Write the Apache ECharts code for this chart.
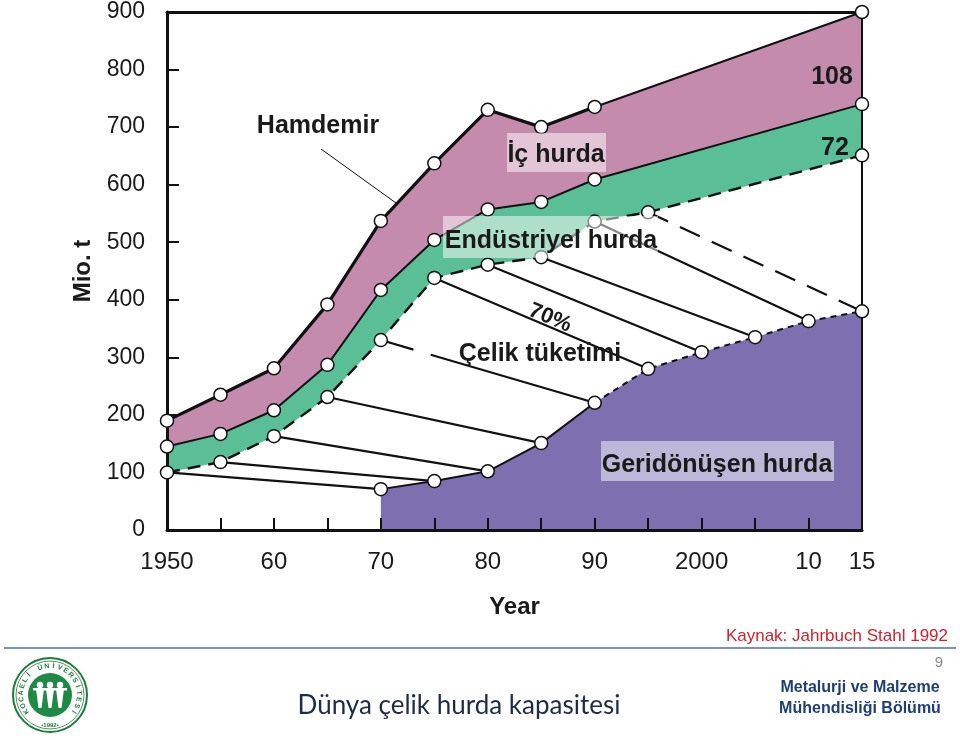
<!DOCTYPE html>
<html>
<head>
<meta charset="utf-8">
<script src="https://cdn.jsdelivr.net/npm/echarts@6/dist/echarts.min.js"></script>
<style>html,body{margin:0;padding:0;background:#fff;}#c{width:960px;height:740px;}</style>
</head>
<body>
<div id="c"></div>
<script>
// ---- data (Mio. t) ----
const mainYears = [1950, 1955, 1960, 1965, 1970, 1975, 1980, 1985, 1990, 2015];
const hamdemir = [190, 235, 281, 392, 537, 637, 730, 700, 735, 900];        // top line
const icHurdaAlt = [145, 167, 208, 287, 417, 504, 557, 570, 609, 740];      // middle line
const consumptionYears = [1950, 1955, 1960, 1965, 1970, 1975, 1980, 1985, 1990, 1995, 2015];
const celikTuketimi = [100, 118, 163, 231, 330, 438, 461, 474, 536, 552, 651]; // bottom (dashed) line
const scrapYears = [1970, 1975, 1980, 1985, 1990, 1995, 2000, 2005, 2010, 2015];
const geridonusenHurda = [71, 85, 102, 151, 221, 280, 309, 335, 363, 380];
const lagYears = 20; // consumption -> recycled scrap 20 years later
const dashedLagFrom = [1970, 1995];
const xTickLabels = {1950: '1950', 1960: '60', 1970: '70', 1980: '80', 1990: '90', 2000: '2000', 2010: '10', 2015: '15'};

const FONT = "'Liberation Sans', Arial, sans-serif";
const PINK = '#C58BAC', GREEN = '#5ABE96', PURPLE = '#7C70B0';

function pairs(xs, ys) { return xs.map((x, i) => [x, ys[i]]); }
function sub(xs, ys, a, b) { return pairs(xs, ys).filter(p => p[0] >= a && p[0] <= b); }

const series = [];
function area(data, color, z) {
  series.push({type: 'line', data, symbol: 'none', z, silent: true,
    lineStyle: {width: 0}, areaStyle: {color, opacity: 1}, animation: false});
}
function line(data, width, type, z) {
  series.push({type: 'line', data, symbol: 'none', z, silent: true,
    lineStyle: {color: '#111', width, type, cap: 'butt'}, animation: false});
}
area(pairs(mainYears, hamdemir), PINK, 1);
area(pairs(mainYears, icHurdaAlt), GREEN, 2);
area(pairs(consumptionYears, celikTuketimi), '#ffffff', 3);
area(pairs(scrapYears, geridonusenHurda), PURPLE, 4);

// lag lines
consumptionYears.forEach((y, i) => {
  const j = scrapYears.indexOf(y + lagYears);
  if (j < 0) return;
  const dashed = dashedLagFrom.includes(y);
  const t = y === 1970 ? [34, 18, 400, 0] : (dashed ? [22, 13] : 'solid');
  line([[y, celikTuketimi[i]], [scrapYears[j], geridonusenHurda[j]]], 2.2, t, 5);
});

// boundary lines
line(sub(mainYears, hamdemir, 1950, 1990), 3.2, 'solid', 6);
line(sub(mainYears, hamdemir, 1990, 2015), 2, 'solid', 6);
line(pairs(mainYears, icHurdaAlt), 2, 'solid', 6);
line(pairs(consumptionYears, celikTuketimi), 2.4, [13, 8], 6);
line(sub(scrapYears, geridonusenHurda, 1970, 1990), 2, 'solid', 6);
line(sub(scrapYears, geridonusenHurda, 1990, 2015), 2, [6, 5], 6);

// markers
series.push({type: 'scatter', z: 20, silent: true, animation: false,
  symbol: 'circle', symbolSize: 13,
  itemStyle: {color: '#fff', borderColor: '#111', borderWidth: 1.5, opacity: 1},
  data: [].concat(pairs(mainYears, hamdemir), pairs(mainYears, icHurdaAlt),
    pairs(consumptionYears, celikTuketimi), pairs(scrapYears, geridonusenHurda))});

const chart = echarts.init(document.getElementById('c'), null, {renderer: 'canvas'});

const txt = (s, x, y, size, opts = {}) => Object.assign({
  type: 'text', z: 101, silent: true,
  style: {text: s, x, y, font: `bold ${size}px ${FONT}`, fill: '#1a1a1a', textAlign: 'center', textVerticalAlign: 'middle'}
}, opts);
const box = (x, y, w, h) => ({type: 'rect', z: 100, silent: true, shape: {x, y, width: w, height: h},
  style: {fill: 'rgba(255,255,255,0.5)'}});

const graphic = [
  {type: 'line', z: 100, silent: true, shape: {x1: 321, y1: 149, x2: 396, y2: 203}, style: {stroke: '#111', lineWidth: 1}},
  txt('Hamdemir', 318, 126, 25),
  box(507, 133, 99, 39), txt('İç hurda', 556, 155, 25),
  box(443, 216, 215, 42), txt('Endüstriyel hurda', 551, 241, 25),
  txt('70%', 550, 318, 22),
  txt('Çelik tüketimi', 540, 354, 25),
  box(601, 441, 233, 40), txt('Geridönüşen hurda', 717, 465, 25),
  txt('108', 832, 77, 25), txt('72', 835, 148, 25),
  // footer
  {type: 'text', z: 100, silent: true, style: {text: 'Kaynak: Jahrbuch Stahl 1992', x: 948, y: 636,
    font: `17px ${FONT}`, fill: '#d4202a', textAlign: 'right', textVerticalAlign: 'middle'}},
  {type: 'line', z: 100, silent: true, shape: {x1: 4, y1: 648, x2: 956, y2: 648}, style: {stroke: '#7a95b8', lineWidth: 2}},
  {type: 'text', z: 100, silent: true, style: {text: '9', x: 943, y: 663, font: `15px ${FONT}`, fill: '#8a8a8a', textAlign: 'right', textVerticalAlign: 'middle'}},
  {type: 'text', z: 100, silent: true, style: {text: 'Dünya çelik hurda kapasitesi', x: 459, y: 706,
    font: `26px Lato, 'Noto Sans', sans-serif`, fill: '#1f2a44', textAlign: 'center', textVerticalAlign: 'middle'}},
  {type: 'text', z: 100, silent: true, style: {text: 'Metalurji ve Malzeme', x: 860, y: 688,
    font: `bold 16px ${FONT}`, fill: '#1d3f73', textAlign: 'center', textVerticalAlign: 'middle'}},
  {type: 'text', z: 100, silent: true, style: {text: 'Mühendisliği Bölümü', x: 860, y: 709,
    font: `bold 16px ${FONT}`, fill: '#1d3f73', textAlign: 'center', textVerticalAlign: 'middle'}},
  // logo
  {type: 'circle', z: 100, silent: true, shape: {cx: 50, cy: 695, r: 37}, style: {fill: '#fff', stroke: '#1f7a3c', lineWidth: 2}},
  {type: 'circle', z: 100, silent: true, shape: {cx: 50, cy: 695, r: 34}, style: {fill: 'none', stroke: '#1f7a3c', lineWidth: 0.8}},
  {type: 'circle', z: 101, silent: true, shape: {cx: 50, cy: 695, r: 22}, style: {fill: '#1f8a45'}},
  {type: 'text', z: 102, silent: true, style: {text: '•1992•', x: 50, y: 725, font: `bold 6px ${FONT}`, fill: '#1f7a3c', textAlign: 'center', textVerticalAlign: 'middle'}},
];
// logo figures
[40, 50, 60].forEach(cx => {
  graphic.push({type: 'circle', z: 102, silent: true, shape: {cx, cy: 685, r: 3.2}, style: {fill: '#fff'}});
  graphic.push({type: 'polygon', z: 102, silent: true, shape: {points: [[cx - 4, 689], [cx + 4, 689], [cx + 1.5, 708], [cx - 1.5, 708]]}, style: {fill: '#fff'}});
});
graphic.push({type: 'rect', z: 102, silent: true, shape: {x: 33, y: 688, width: 34, height: 2.5}, style: {fill: '#fff'}});
// logo arc text
(function () {
  const s = 'KOCAELİ ÜNİVERSİTESİ';
  const a0 = 215, a1 = -35, r = 29;
  for (let i = 0; i < s.length; i++) {
    const a = (a0 + (a1 - a0) * i / (s.length - 1)) * Math.PI / 180;
    graphic.push({type: 'text', z: 102, silent: true, x: 50 + r * Math.cos(a), y: 695 - r * Math.sin(a),
      rotation: a - Math.PI / 2,
      style: {text: s[i], x: 0, y: 0, font: `bold 7px ${FONT}`, fill: '#1f7a3c', textAlign: 'center', textVerticalAlign: 'middle'}});
  }
})();
// position the rotated 70% label
graphic.forEach(g => { if (g.style && g.style.text === '70%') { g.x = 550; g.y = 318; g.rotation = -23 * Math.PI / 180; g.style.x = 0; g.style.y = 0; } });

chart.setOption({
  animation: false,
  backgroundColor: '#fff',
  grid: {left: 167, right: 98, top: 12, bottom: 210},
  xAxis: [{
    type: 'value', min: 1950, max: 2015, interval: 5, z: 10,
    name: 'Year', nameLocation: 'middle', nameGap: 65,
    nameTextStyle: {fontFamily: FONT, fontSize: 24, fontWeight: 'bold', color: '#1a1a1a'},
    axisLine: {show: true, onZero: false, lineStyle: {color: '#111', width: 3}},
    axisTick: {show: true, inside: true, length: 12, lineStyle: {color: '#111', width: 2}},
    axisLabel: {show: true, margin: 20, fontFamily: FONT, fontSize: 24, color: '#1a1a1a',
      showMinLabel: true, showMaxLabel: true, formatter: v => xTickLabels[v] || ''},
    splitLine: {show: false}
  }, {
    type: 'value', min: 1950, max: 2015, position: 'top', z: 10,
    axisLine: {show: true, onZero: false, lineStyle: {color: '#111', width: 3}},
    axisTick: {show: false}, axisLabel: {show: false}, splitLine: {show: false}
  }],
  yAxis: [{
    type: 'value', min: 0, max: 900, interval: 100, z: 10,
    name: 'Mio. t', nameLocation: 'middle', nameGap: 66, nameRotate: 90,
    nameTextStyle: {fontFamily: FONT, fontSize: 24, fontWeight: 'bold', color: '#1a1a1a'},
    axisLine: {show: true, onZero: false, lineStyle: {color: '#111', width: 3}},
    axisTick: {show: true, inside: true, length: 12, lineStyle: {color: '#111', width: 2}},
    axisLabel: {show: true, margin: 22, fontFamily: FONT, fontSize: 23, color: '#1a1a1a', padding: [8, 0, 0, 0]},
    splitLine: {show: false}
  }, {
    type: 'value', min: 0, max: 900, position: 'right', z: 10,
    axisLine: {show: true, onZero: false, lineStyle: {color: '#111', width: 2}},
    axisTick: {show: false}, axisLabel: {show: false}, splitLine: {show: false}
  }],
  series,
  graphic
});
</script>
</body>
</html>
